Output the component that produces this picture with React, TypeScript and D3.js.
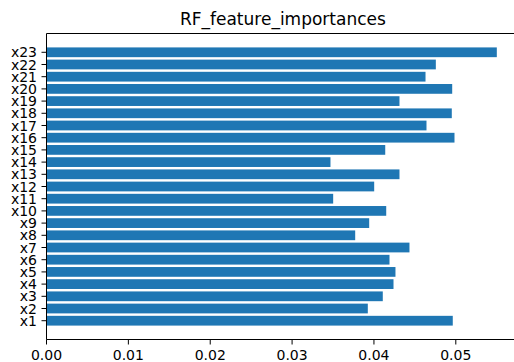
import React from "react";
import * as d3 from "d3";

const categories = ["x1","x2","x3","x4","x5","x6","x7","x8","x9","x10","x11","x12","x13","x14","x15","x16","x17","x18","x19","x20","x21","x22","x23"];
const importances = [0.04963,0.03925,0.04108,0.04239,0.04263,0.04190,0.04434,0.03771,0.03942,0.04150,0.03502,0.04003,0.04312,0.03469,0.04138,0.04984,0.04642,0.04951,0.04312,0.04956,0.04630,0.04756,0.05501];
const xTicks = [0, 0.01, 0.02, 0.03, 0.04, 0.05];
const title = "RF_feature_importances";

const W = 514, H = 362;
const left = 46.5, top = 33.5, bottom = 339.5;
const pxPerUnit = 8186;
const FONT = "DejaVu Sans, sans-serif";

export default function App() {
  const n = categories.length;
  const xMax = d3.max(importances)! * 1.05;
  const x = d3.scaleLinear().domain([0, xMax]).range([left, left + pxPerUnit * xMax]);
  const pad = 0.05 * (n - 1 + 0.8);
  const y = d3.scaleLinear().domain([-0.4 - pad, n - 1 + 0.4 + pad]).range([bottom, top]);
  const right = x(xMax);
  const tick = 5;
  return (
    <svg width={W} height={H} style={{ position: "absolute", left: 0, top: 0, background: "#fff" }} fontFamily={FONT}>
      <rect x={0} y={0} width={W} height={H} fill="#fff" />
      {importances.map((v, i) => (
        <rect key={i} x={x(0)} y={y(i + 0.4)} width={x(v) - x(0)} height={y(i - 0.4) - y(i + 0.4)} fill="#1f77b4" />
      ))}
      <line x1={left} x2={left} y1={top} y2={bottom} stroke="#000" strokeWidth={1} />
      <line x1={left} x2={right} y1={top} y2={top} stroke="#000" strokeWidth={1} />
      <line x1={left} x2={right} y1={bottom} y2={bottom} stroke="#000" strokeWidth={1} />
      <line x1={right} x2={right} y1={top} y2={bottom} stroke="#000" strokeWidth={1} />
      {categories.map((c, i) => (
        <g key={c}>
          <line x1={left - tick} x2={left} y1={y(i)} y2={y(i)} stroke="#000" strokeWidth={1} />
          <text x={left - 9.5} y={y(i)} dy="0.36em" textAnchor="end" fontSize={14} fill="#000">{c}</text>
        </g>
      ))}
      {xTicks.map((t) => (
        <g key={t}>
          <line x1={x(t)} x2={x(t)} y1={bottom} y2={bottom + tick} stroke="#000" strokeWidth={1} />
          <text x={x(t)} y={360} textAnchor="middle" fontSize={14} fill="#000">{t.toFixed(2)}</text>
        </g>
      ))}
      <text x={(left + right) / 2} y={25} textAnchor="middle" fontSize={17} fill="#000">{title}</text>
    </svg>
  );
}
